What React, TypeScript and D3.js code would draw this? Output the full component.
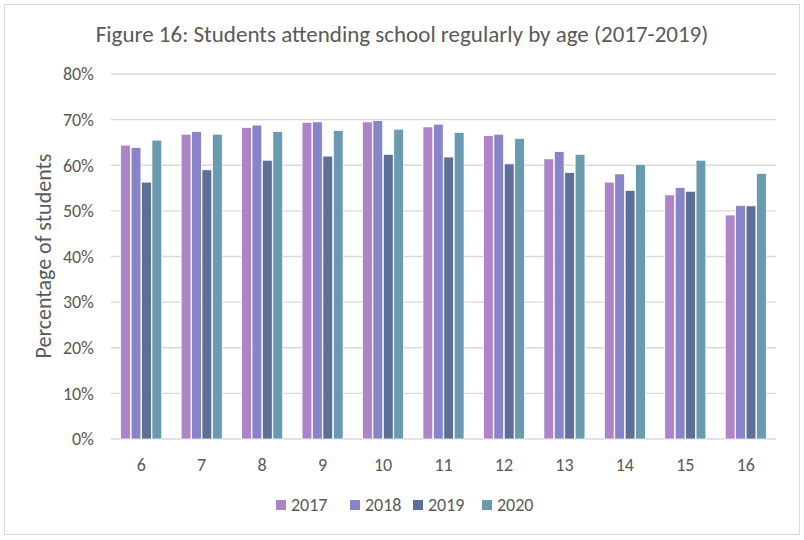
import * as d3 from 'd3';
import React, { useEffect, useRef } from 'react';

const ages = ['6', '7', '8', '9', '10', '11', '12', '13', '14', '15', '16'];
const years = ['2017', '2018', '2019', '2020'];
const v2017 = [64.4, 66.8, 68.3, 69.4, 69.5, 68.4, 66.5, 61.4, 56.3, 53.5, 49.1];
const v2018 = [63.9, 67.4, 68.8, 69.5, 69.8, 69.0, 66.8, 63.0, 58.1, 55.1, 51.2];
const v2019 = [56.3, 59.0, 61.1, 62.0, 62.4, 61.8, 60.3, 58.4, 54.5, 54.3, 51.1];
const v2020 = [65.5, 66.8, 67.4, 67.6, 67.9, 67.2, 65.9, 62.4, 60.2, 61.1, 58.2];
const yTicks = [0, 10, 20, 30, 40, 50, 60, 70, 80];
const colors = ['#ad84c6', '#8784c7', '#5d6f96', '#6a9ab0'];

const FONT = 'Carlito, Lato, sans-serif';

const App = () => {
	const svgRef = useRef(null);

	useEffect(() => {
		document.body.style.margin = '0';
		const series = [v2017, v2018, v2019, v2020];
		const svg = d3.select(svgRef.current);
		svg.selectAll('*').remove();

		const x0 = d3.scaleBand().domain(ages).range([111, 776]).paddingInner(0.3).paddingOuter(0.15);
		const x1 = d3.scaleBand().domain(years).range([0, x0.bandwidth()]).padding(0.06);
		const y = d3.scaleLinear().domain([0, 80]).range([439, 74]);

		// frame
		svg.append('rect')
			.attr('x', 4.5).attr('y', 4.5)
			.attr('width', 795).attr('height', 530)
			.attr('fill', '#fff')
			.attr('stroke', '#d9d9d9');

		svg.append('text')
			.attr('x', 402).attr('y', 42)
			.attr('text-anchor', 'middle')
			.style('font-family', FONT).style('font-size', '23px')
			.attr('fill', '#595959')
			.text('Figure 16: Students attending school regularly by age (2017-2019)');

		// grid
		svg.append('g')
			.selectAll('line')
			.data(yTicks)
			.join('line')
			.attr('x1', 111).attr('x2', 776)
			.attr('y1', (d) => y(d)).attr('y2', (d) => y(d))
			.attr('stroke', '#d9d9d9').attr('stroke-width', 1.3);

		svg.append('g')
			.selectAll('text')
			.data(yTicks)
			.join('text')
			.attr('x', 94).attr('y', (d) => y(d))
			.attr('dy', '0.35em')
			.attr('text-anchor', 'end')
			.style('font-family', FONT).style('font-size', '18px')
			.attr('fill', '#595959')
			.text((d) => `${d}%`);

		svg.append('text')
			.attr('transform', 'translate(51, 256) rotate(-90)')
			.attr('text-anchor', 'middle')
			.style('font-family', FONT).style('font-size', '22px')
			.attr('fill', '#595959')
			.text('Percentage of students');

		// bars
		svg.append('g')
			.selectAll('g')
			.data(ages)
			.join('g')
			.attr('transform', (d) => `translate(${x0(d)},0)`)
			.selectAll('rect')
			.data((_d, i) => years.map((yr, j) => ({ yr, v: series[j][i], c: colors[j] })))
			.join('rect')
			.attr('x', (d) => x1(d.yr))
			.attr('y', (d) => y(d.v))
			.attr('width', x1.bandwidth())
			.attr('height', (d) => y(0) - y(d.v))
			.attr('fill', (d) => d.c)
			.attr('stroke', '#fff')
			.attr('stroke-width', 0.75);

		svg.append('g')
			.selectAll('text')
			.data(ages)
			.join('text')
			.attr('x', (d) => x0(d) + x0.bandwidth() / 2)
			.attr('y', 465)
			.attr('dy', '0.35em')
			.attr('text-anchor', 'middle')
			.style('font-family', FONT).style('font-size', '18px')
			.attr('fill', '#595959')
			.text((d) => d);

		// legend
		const legendX = [276, 350, 413, 482];
		const lg = svg.append('g')
			.selectAll('g')
			.data(years)
			.join('g')
			.attr('transform', (_d, i) => `translate(${legendX[i]},505)`);
		lg.append('rect')
			.attr('x', 0).attr('y', -5)
			.attr('width', 10).attr('height', 10)
			.attr('fill', (_d, i) => colors[i]);
		lg.append('text')
			.attr('x', 15).attr('y', 0)
			.attr('dy', '0.35em')
			.style('font-family', FONT).style('font-size', '18px')
			.attr('fill', '#595959')
			.text((d) => d);
	}, []);

	return <svg ref={svgRef} width={804} height={540} style={{ display: 'block' }} />;
};

export default App;
